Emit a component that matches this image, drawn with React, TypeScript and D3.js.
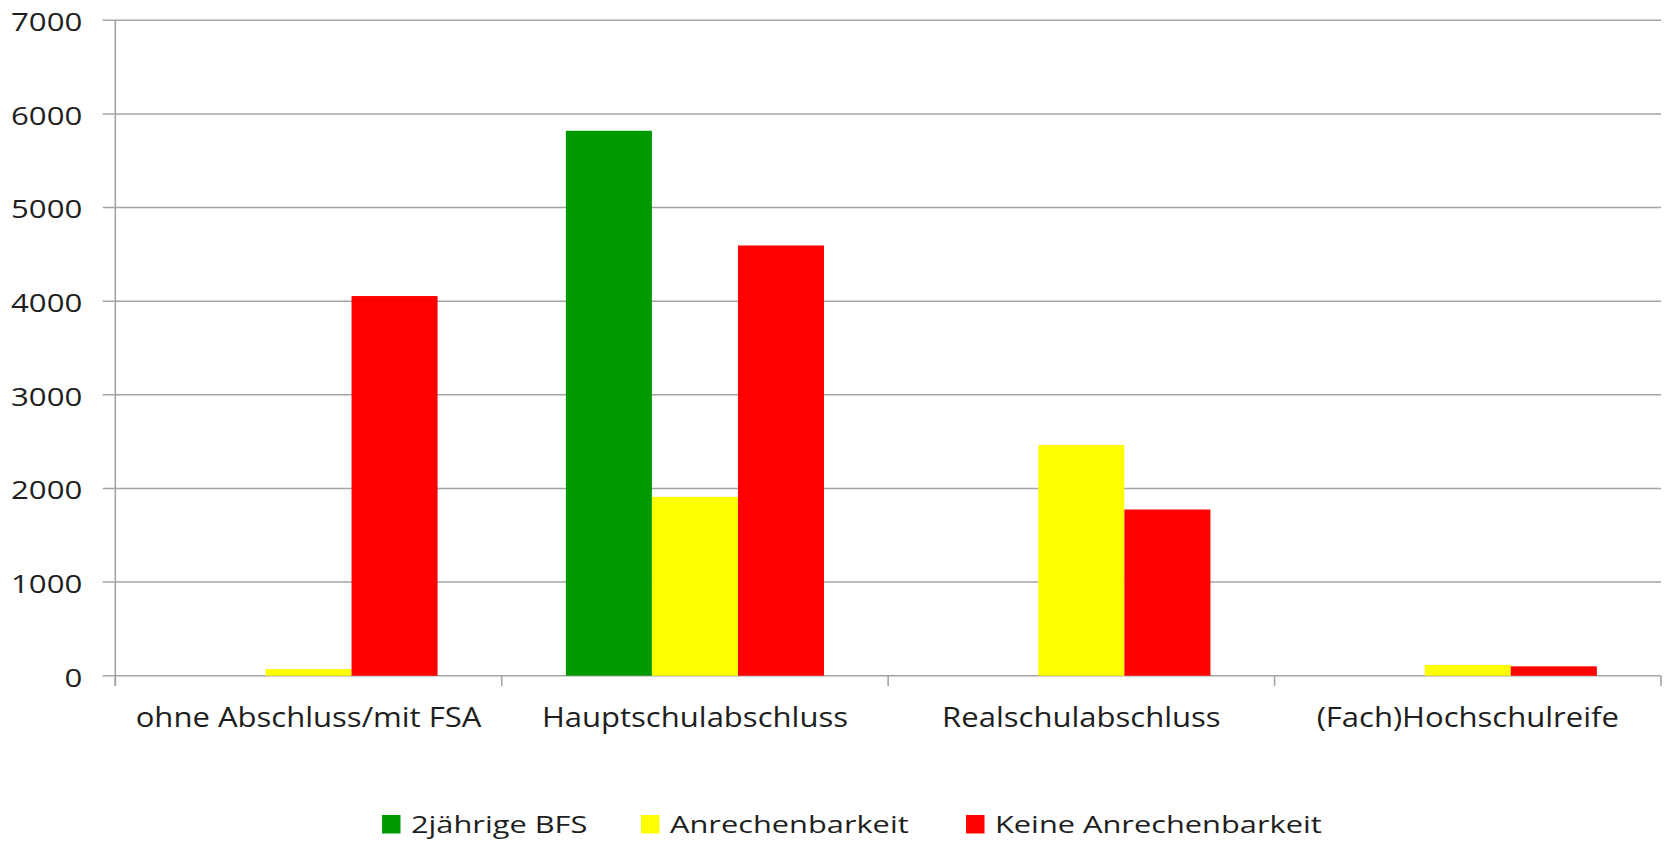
import React from "react";
import * as d3 from "d3";

// Schulabschluss-Kategorien und Werte je Reihe
const categories = [
  "ohne Abschluss/mit FSA",
  "Hauptschulabschluss",
  "Realschulabschluss",
  "(Fach)Hochschulreife",
];
const seriesNames = ["2jährige BFS", "Anrechenbarkeit", "Keine Anrechenbarkeit"];
const bfsValues = [0, 5820, 0, 0];
const anrechenbarValues = [70, 1910, 2465, 115];
const keineValues = [4055, 4595, 1775, 100];
const yTicks = [0, 1000, 2000, 3000, 4000, 5000, 6000, 7000];

const seriesColors = ["#009900", "#ffff00", "#ff0000"];

const W = 1665;
const H = 841;
const plotLeft = 115.3;
const plotRight = 1661;
const plotTop = 20.3;
const plotBottom = 675.7;
const gridColor = "#a3a3a3";
const textColor = "#1e1e1e";
const font = "'Open Sans', 'DejaVu Sans', sans-serif";

const legendX = [382, 641, 966];

export default function App() {
  const seriesValues = [bfsValues, anrechenbarValues, keineValues];

  const y = d3.scaleLinear().domain([0, 7000]).range([plotBottom, plotTop]);
  const x0 = d3.scaleBand<string>().domain(categories).range([plotLeft, plotRight]).padding(0);
  const step = x0.bandwidth();
  const groupPad = step * 0.166;
  const x1 = d3
    .scaleBand<string>()
    .domain(seriesNames)
    .range([groupPad, step - groupPad])
    .padding(0);

  const boundaries = categories.map((c) => x0(c) as number).concat([plotRight]);

  return (
    <svg
      width={W}
      height={H}
      style={{ position: "absolute", left: 0, top: 0, background: "#fff" }}
      fontFamily={font}
    >
      {/* Gitterlinien mit kurzen Teilstrichen links */}
      {yTicks.map((t) => (
        <line
          key={"g" + t}
          x1={102.7}
          x2={plotRight}
          y1={y(t)}
          y2={y(t)}
          stroke={gridColor}
          strokeWidth={1.6}
        />
      ))}
      {/* Y-Achse */}
      <line x1={plotLeft} x2={plotLeft} y1={plotTop} y2={686} stroke={gridColor} strokeWidth={1.6} />
      {/* Kategorie-Teilstriche */}
      {boundaries.map((b, i) => (
        <line key={"b" + i} x1={b} x2={b} y1={plotBottom} y2={686} stroke={gridColor} strokeWidth={1.6} />
      ))}

      {/* Balken */}
      {categories.map((c, ci) =>
        seriesNames.map((s, si) => {
          const v = seriesValues[si][ci];
          if (v <= 0) return null;
          return (
            <rect
              key={c + s}
              x={(x0(c) as number) + (x1(s) as number)}
              y={y(v)}
              width={x1.bandwidth()}
              height={plotBottom - y(v)}
              fill={seriesColors[si]}
            />
          );
        })
      )}

      {/* Y-Beschriftungen */}
      {yTicks.map((t) => (
        <g key={"t" + t} transform={`translate(82.3, ${y(t) + 10.8}) scale(1.2,1)`}>
          <text textAnchor="end" fontSize={26} fill={textColor}>
            {t}
          </text>
        </g>
      ))}

      {/* Kategorien */}
      {categories.map((c) => (
        <g
          key={"c" + c}
          transform={`translate(${(x0(c) as number) + step / 2}, 726.7) scale(1.15,1)`}
        >
          <text textAnchor="middle" fontSize={27} fill={textColor}>
            {c}
          </text>
        </g>
      ))}

      {/* Legende */}
      {seriesNames.map((s, i) => (
        <g key={"l" + s}>
          <rect x={legendX[i]} y={815} width={18.5} height={18.5} fill={seriesColors[i]} />
          <g transform={`translate(${legendX[i] + 29}, 833.3) scale(1.31,1)`}>
            <text fontSize={23.5} fill={textColor}>
              {s}
            </text>
          </g>
        </g>
      ))}
    </svg>
  );
}
